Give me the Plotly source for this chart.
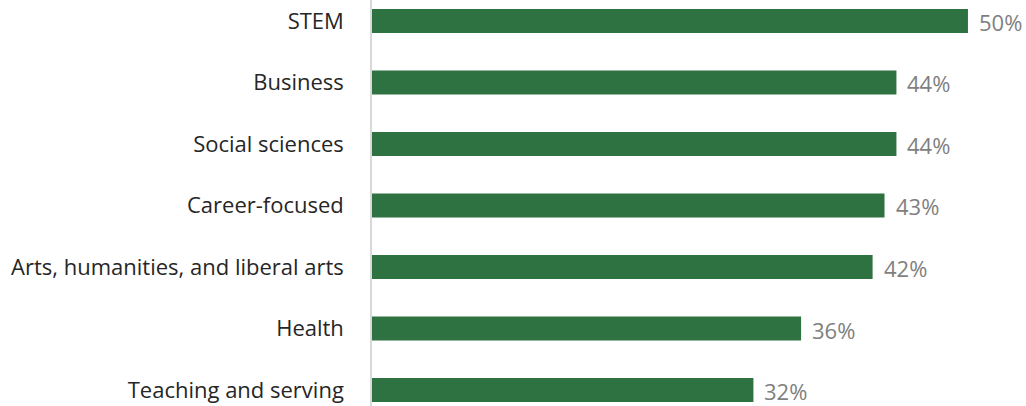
import plotly.graph_objects as go

categories = ["STEM", "Business", "Social sciences", "Career-focused",
              "Arts, humanities, and liberal arts", "Health", "Teaching and serving"]
values = [50, 44, 44, 43, 42, 36, 32]
value_labels = ["50%", "44%", "44%", "43%", "42%", "36%", "32%"]

fig = go.Figure()
fig.add_trace(go.Bar(
    x=values, y=categories, orientation="h",
    marker=dict(color="#2e7241", line=dict(width=0)),
    width=0.39, hoverinfo="skip"
))

for c, v, t in zip(categories, values, value_labels):
    fig.add_annotation(x=v, y=c, text=t, showarrow=False, xanchor="left",
                       xshift=9, yshift=-1,
                       font=dict(family="Open Sans", size=22, color="#7f7f7f"))

fig.update_layout(
    width=1026, height=406,
    margin=dict(l=372, r=0, t=0, b=0),
    paper_bgcolor="white", plot_bgcolor="white",
    showlegend=False,
    font=dict(family="Open Sans", size=22, color="#262626"),
    xaxis=dict(range=[0, 54.87], visible=False, fixedrange=True),
    yaxis=dict(type="category", categoryorder="array", categoryarray=categories,
               range=[6.26, -0.341], showline=True, linecolor="#d9d9d9", linewidth=1.5,
               showgrid=False, ticks="", ticklabelstandoff=22, zeroline=False,
               tickfont=dict(family="Open Sans", size=22, color="#262626")),
)

# browser default body margin shifts the chart by 8px
fig.write_html("out.html", config={"displayModeBar": False},
               post_script="document.body.style.margin='0';")
